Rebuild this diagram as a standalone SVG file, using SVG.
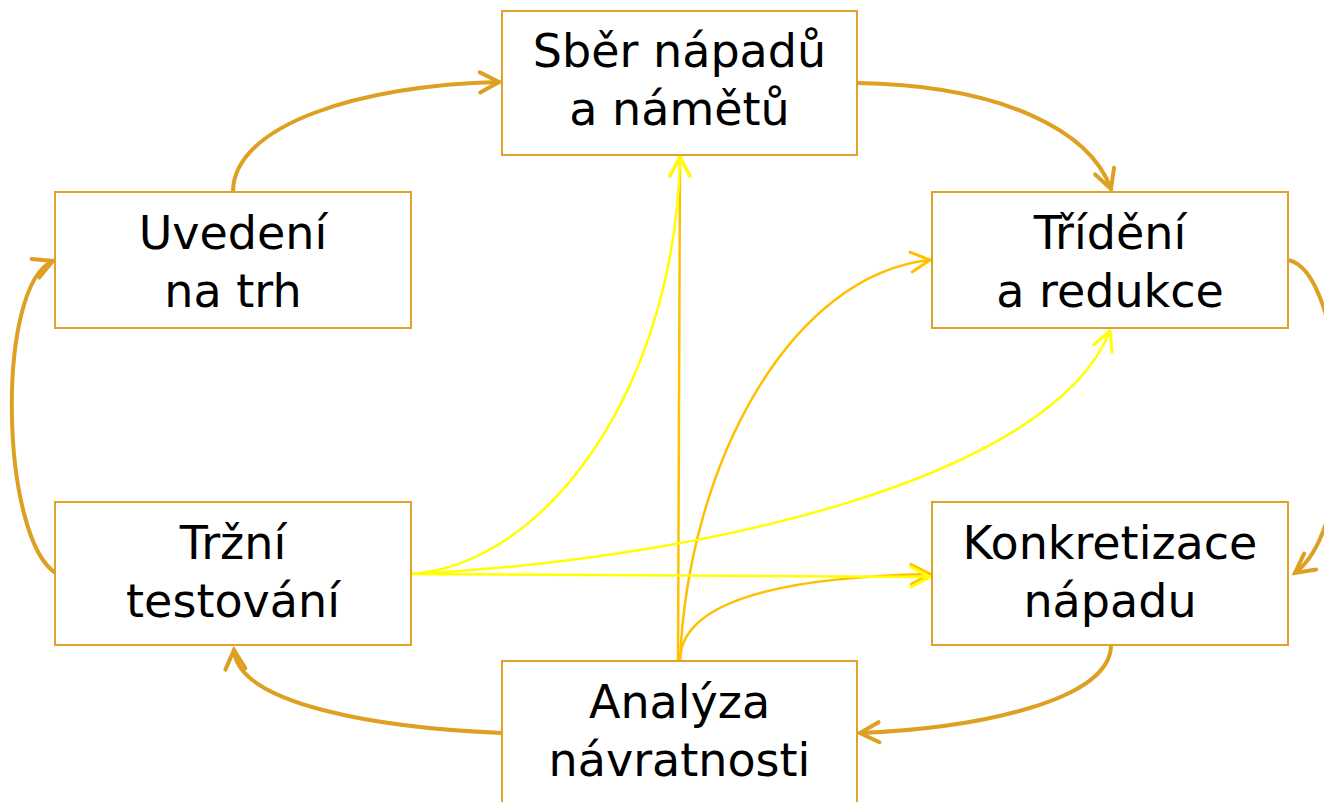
<svg xmlns="http://www.w3.org/2000/svg" width="1324" height="802" viewBox="0 0 1324 802">
<style>
.box{fill:#fff;stroke:#E0A32A;stroke-width:2}
.t{font-family:"DejaVu Sans","Liberation Sans",sans-serif;font-size:46px;fill:#000;text-anchor:middle}
.dk{fill:none;stroke:#DDA022;stroke-width:4;stroke-linecap:round}
.ye{fill:none;stroke:#FFFF00;stroke-width:2.5;stroke-linecap:round}
.or{fill:none;stroke:#FFC000;stroke-width:2.5;stroke-linecap:round}
</style>
<defs>
<marker id="aDk" markerUnits="userSpaceOnUse" viewBox="-24 -14 28 28" markerWidth="28" markerHeight="28" refX="0" refY="0" orient="auto" overflow="visible">
<path d="M-19,-10 L0,0 L-19,10" fill="none" stroke="#DDA022" stroke-width="4" stroke-linecap="round" stroke-linejoin="miter"/>
</marker>
<marker id="aYe" markerUnits="userSpaceOnUse" viewBox="-24 -14 28 28" markerWidth="28" markerHeight="28" refX="0" refY="0" orient="auto" overflow="visible">
<path d="M-19,-10 L0,0 L-19,10" fill="none" stroke="#FFFF00" stroke-width="3" stroke-linecap="round"/>
</marker>
<marker id="aOr" markerUnits="userSpaceOnUse" viewBox="-24 -14 28 28" markerWidth="28" markerHeight="28" refX="0" refY="0" orient="auto" overflow="visible">
<path d="M-19,-10 L0,0 L-19,10" fill="none" stroke="#FFC000" stroke-width="3" stroke-linecap="round"/>
</marker>
</defs>
<rect width="1324" height="802" fill="#fff"/>
<g id="connectors">
<path class="dk" d="M233,192 C233,125 360,85 499,82" marker-end="url(#aDk)"/>
<path class="dk" d="M857,83 C1000,85 1090,130 1111,189" marker-end="url(#aDk)"/>
<path class="dk" d="M1288,260 C1345,270 1365,520 1295,573" marker-end="url(#aDk)"/>
<path class="dk" d="M1111,645 C1111,700 980,728 860,733" marker-end="url(#aDk)"/>
<path class="dk" d="M502,733 C380,728 238,705 234,650" marker-end="url(#aDk)"/>
<path class="dk" d="M57,574 C0,540 -5,285 53,261" marker-end="url(#aDk)"/>
<path class="or" d="M678,661 L680,157" marker-end="url(#aOr)"/>
<path class="or" d="M680,661 C688,465 790,275 930,260" marker-end="url(#aOr)"/>
<path class="or" d="M680,661 C680,615 740,578 930,574" marker-end="url(#aOr)"/>
<path class="ye" d="M411,574 C545,565 675,390 680,157" marker-end="url(#aYe)"/>
<path class="ye" d="M411,574 C700,560 1050,480 1110,331" marker-end="url(#aYe)"/>
<path class="ye" d="M411,574 L930,577" marker-end="url(#aYe)"/>
</g>
<g id="n-sber">
<rect class="box" x="502" y="11" width="355" height="144"/>
<text class="t" x="679.5" y="67">Sběr nápadů</text>
<text class="t" x="679.5" y="125">a námětů</text>
</g>
<g id="n-trideni">
<rect class="box" x="932" y="192" width="356" height="136"/>
<text class="t" x="1110" y="249">Třídění</text>
<text class="t" x="1110" y="307">a redukce</text>
</g>
<g id="n-konkretizace">
<rect class="box" x="932" y="502" width="356" height="143"/>
<text class="t" x="1110" y="559">Konkretizace</text>
<text class="t" x="1110" y="617">nápadu</text>
</g>
<g id="n-analyza">
<rect class="box" x="502" y="661" width="355" height="150"/>
<text class="t" x="679.5" y="718">Analýza</text>
<text class="t" x="679.5" y="776">návratnosti</text>
</g>
<g id="n-trzni">
<rect class="box" x="55" y="502" width="356" height="143"/>
<text class="t" x="233" y="559">Tržní</text>
<text class="t" x="233" y="617">testování</text>
</g>
<g id="n-uvedeni">
<rect class="box" x="55" y="192" width="356" height="136"/>
<text class="t" x="233" y="249">Uvedení</text>
<text class="t" x="233" y="307">na trh</text>
</g>
</svg>
